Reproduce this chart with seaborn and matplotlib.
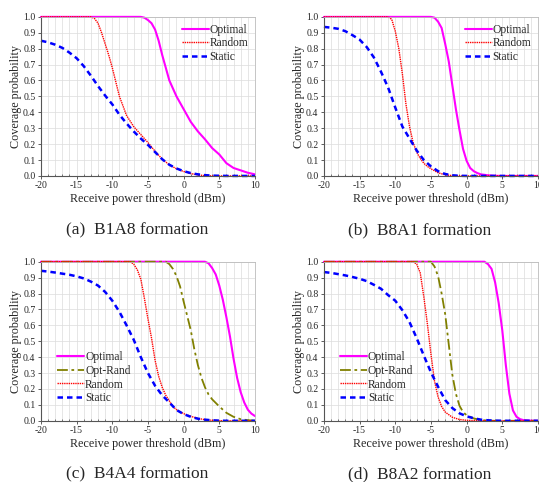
import numpy as np
import pandas as pd
import matplotlib
matplotlib.use("Agg")
import matplotlib.pyplot as plt
from matplotlib.ticker import MultipleLocator, FormatStrFormatter
import seaborn as sns

sns.set_theme(style="whitegrid")
plt.rcParams['font.family'] = ['Liberation Serif', 'DejaVu Serif']
plt.rcParams['axes.unicode_minus'] = False

# ---- datos ----
# (a) B1A8
xa_opt = [-20, -6, -5.5, -5, -4.5, -4, -3.5, -3, -2, -1, 0, 1, 2, 3, 4, 4.5, 5, 6, 7, 8, 9, 10]
ya_opt = [1.0, 1.0, 0.995, 0.98, 0.96, 0.92, 0.85, 0.76, 0.60, 0.50, 0.42, 0.34, 0.28, 0.23, 0.175, 0.155, 0.135, 0.08, 0.05, 0.035, 0.02, 0.01]
xa_rand = [-20, -13, -12.5, -12, -11.5, -11, -10.5, -10, -9.5, -9, -8, -7, -6, -5, -4, -3, -2, -1, 0, 1, 2, 3, 4, 10]
ya_rand = [1.0, 1.0, 0.99, 0.96, 0.90, 0.83, 0.76, 0.68, 0.59, 0.50, 0.38, 0.31, 0.26, 0.21, 0.155, 0.105, 0.07, 0.045, 0.028, 0.015, 0.006, 0.002, 0.0, 0.0]
xa_stat = [-20, -19, -18, -17, -16, -15, -14, -13, -12, -11, -10, -9, -8, -7, -6, -5, -4, -3, -2, -1, 0, 1, 2, 3, 4, 5, 6, 10]
ya_stat = [0.85, 0.84, 0.825, 0.805, 0.775, 0.74, 0.69, 0.63, 0.565, 0.505, 0.45, 0.385, 0.33, 0.28, 0.235, 0.195, 0.15, 0.105, 0.07, 0.047, 0.03, 0.018, 0.01, 0.005, 0.002, 0.001, 0.0, 0.0]

# (b) B8A1
xb_opt = [-20, -5, -4.5, -4, -3.5, -3, -2.5, -2, -1.5, -1, -0.5, 0, 0.5, 1, 1.5, 2, 3, 4, 5, 10]
yb_opt = [1.0, 1.0, 0.995, 0.97, 0.93, 0.83, 0.72, 0.57, 0.42, 0.29, 0.17, 0.095, 0.05, 0.03, 0.018, 0.01, 0.004, 0.001, 0.0, 0.0]
xb_rand = [-20, -11, -10.5, -10, -9.5, -9, -8.5, -8, -7.5, -7, -6.5, -6, -5.5, -5, -4, -3, -2, -1, 10]
yb_rand = [1.0, 1.0, 0.985, 0.91, 0.80, 0.64, 0.45, 0.31, 0.21, 0.15, 0.11, 0.08, 0.06, 0.045, 0.02, 0.007, 0.002, 0.0, 0.0]
xb_stat = [-20, -19, -18, -17, -16, -15, -14, -13, -12, -11, -10, -9, -8, -7, -6, -5, -4, -3, -2, -1, 0, 10]
yb_stat = [0.937, 0.932, 0.925, 0.91, 0.885, 0.857, 0.81, 0.745, 0.655, 0.555, 0.43, 0.31, 0.235, 0.16, 0.10, 0.06, 0.03, 0.012, 0.004, 0.001, 0.0, 0.0]

# (c) B4A4
xc_opt = [-20, 3, 3.5, 4, 4.5, 5, 5.5, 6, 6.5, 7, 7.5, 8, 8.5, 9, 9.5, 10]
yc_opt = [1.0, 1.0, 0.99, 0.96, 0.92, 0.85, 0.76, 0.65, 0.53, 0.39, 0.27, 0.18, 0.115, 0.07, 0.045, 0.03]
xc_optr = [-20, -2.5, -2, -1.5, -1, -0.5, 0, 0.5, 1, 1.5, 2, 2.5, 3, 3.5, 4, 5, 6, 7, 8, 9, 10]
yc_optr = [1.0, 1.0, 0.985, 0.955, 0.91, 0.845, 0.75, 0.66, 0.57, 0.45, 0.35, 0.27, 0.21, 0.165, 0.135, 0.09, 0.05, 0.025, 0.01, 0.004, 0.001]
xc_rand = [-20, -7.5, -7, -6.5, -6, -5.5, -5, -4.5, -4, -3.5, -3, -2.5, -2, -1.5, -1, 0, 1, 2, 3, 4, 5, 6, 10]
yc_rand = [1.0, 1.0, 0.985, 0.95, 0.89, 0.77, 0.64, 0.52, 0.38, 0.28, 0.21, 0.16, 0.125, 0.09, 0.07, 0.045, 0.028, 0.015, 0.007, 0.003, 0.001, 0.0, 0.0]
xc_stat = [-20, -19, -18, -17, -16, -15, -14, -13, -12, -11, -10, -9, -8, -7, -6, -5, -4, -3, -2, -1, 0, 1, 2, 3, 4, 5, 6, 10]
yc_stat = [0.943, 0.938, 0.932, 0.925, 0.918, 0.908, 0.895, 0.875, 0.85, 0.81, 0.755, 0.685, 0.60, 0.51, 0.40, 0.30, 0.22, 0.16, 0.115, 0.068, 0.042, 0.025, 0.013, 0.007, 0.003, 0.001, 0.0, 0.0]

# (d) B8A2
xd_opt = [-20, 2.5, 3, 3.5, 4, 4.5, 5, 5.5, 6, 6.5, 7, 7.5, 8, 9, 10]
yd_opt = [1.0, 1.0, 0.985, 0.955, 0.87, 0.74, 0.57, 0.35, 0.17, 0.065, 0.025, 0.01, 0.004, 0.001, 0.0]
xd_optr = [-20, -5, -4.5, -4, -3.5, -3, -2.5, -2, -1.5, -1, -0.5, 0, 1, 2, 3, 4, 10]
yd_optr = [1.0, 1.0, 0.97, 0.91, 0.80, 0.67, 0.48, 0.29, 0.17, 0.095, 0.055, 0.035, 0.015, 0.005, 0.001, 0.0, 0.0]
xd_rand = [-20, -7.5, -7, -6.5, -6, -5.5, -5, -4.5, -4, -3.5, -3, -2, -1, 0, 1, 2, 10]
yd_rand = [1.0, 1.0, 0.985, 0.93, 0.78, 0.61, 0.42, 0.25, 0.15, 0.09, 0.055, 0.022, 0.008, 0.003, 0.001, 0.0, 0.0]
xd_stat = [-20, -19, -18, -17, -16, -15, -14, -13, -12, -11, -10, -9, -8, -7, -6, -5, -4, -3, -2, -1, 0, 1, 2, 3, 4, 5, 10]
yd_stat = [0.935, 0.93, 0.922, 0.914, 0.904, 0.893, 0.878, 0.855, 0.83, 0.79, 0.755, 0.695, 0.62, 0.52, 0.41, 0.305, 0.214, 0.13, 0.08, 0.047, 0.028, 0.016, 0.007, 0.003, 0.001, 0.0, 0.0]

titulos = ['(a)  B1A8 formation', '(b)  B8A1 formation', '(c)  B4A4 formation', '(d)  B8A2 formation']

estilos = {
    'Optimal': dict(color='#ff00ff', linestyle='-', linewidth=1.5),
    'Opt-Rand': dict(color='#808000', linestyle=(0, (6, 2, 1.5, 2)), linewidth=1.3),
    'Random': dict(color='#ff0000', linestyle=(0, (1, 0.6)), linewidth=1.0),
    'Static': dict(color='#0000ff', linestyle=(0, (2.2, 1.6)), linewidth=1.8),
}


def dibujar_panel(ax, series, leyenda_abajo):
    for nombre, x, y in series:
        sns.lineplot(x=x, y=y, ax=ax, label=nombre, clip_on=False, **estilos[nombre])
    ax.set_xlim(-20, 10)
    ax.set_ylim(0, 1.0)
    ax.xaxis.set_major_locator(MultipleLocator(5))
    ax.xaxis.set_minor_locator(MultipleLocator(1))
    ax.yaxis.set_major_locator(MultipleLocator(0.1))
    ax.yaxis.set_major_formatter(FormatStrFormatter('%.1f'))
    ax.grid(True, which='both', color='#dcdcdc', linewidth=0.5)
    ax.set_axisbelow(True)
    ax.tick_params(axis='both', which='major', labelsize=7, length=2.5, width=0.6,
                   color='#444444', pad=1.5, direction='out')
    ax.tick_params(axis='x', which='minor', length=1.5, width=0.5, color='#444444',
                   direction='in', bottom=True)
    ax.xaxis.set_ticks_position('bottom')
    ax.yaxis.set_ticks_position('left')
    for lado in ['left', 'bottom']:
        ax.spines[lado].set_color('#555555')
        ax.spines[lado].set_linewidth(0.8)
    for lado in ['top', 'right']:
        ax.spines[lado].set_color('#bbbbbb')
        ax.spines[lado].set_linewidth(0.6)
    ax.set_xlabel('Receive power threshold (dBm)', fontsize=8.7, labelpad=2)
    ax.set_ylabel('Coverage probability', fontsize=8.7, labelpad=1)
    if leyenda_abajo:
        ax.legend(loc='lower left', bbox_to_anchor=(0.055, 0.075), frameon=False, fontsize=8.3,
                  handlelength=2.35, handletextpad=0.05, labelspacing=0.15, borderaxespad=0)
    else:
        ax.legend(loc='upper right', bbox_to_anchor=(1.0, 1.0), frameon=False, fontsize=8.3,
                  handlelength=2.35, handletextpad=0.05, labelspacing=0.12, borderaxespad=0.2)


fig = plt.figure(figsize=(5.39, 4.82), dpi=100)
fig.patch.set_facecolor('white')

ax_a = fig.add_axes([0.076, 0.635, 0.397, 0.330])
ax_b = fig.add_axes([0.601, 0.635, 0.397, 0.330])
ax_c = fig.add_axes([0.076, 0.127, 0.397, 0.330])
ax_d = fig.add_axes([0.601, 0.127, 0.397, 0.330])

dibujar_panel(ax_a, [('Optimal', xa_opt, ya_opt), ('Random', xa_rand, ya_rand),
                     ('Static', xa_stat, ya_stat)], False)
dibujar_panel(ax_b, [('Optimal', xb_opt, yb_opt), ('Random', xb_rand, yb_rand),
                     ('Static', xb_stat, yb_stat)], False)
dibujar_panel(ax_c, [('Optimal', xc_opt, yc_opt), ('Opt-Rand', xc_optr, yc_optr),
                     ('Random', xc_rand, yc_rand), ('Static', xc_stat, yc_stat)], True)
dibujar_panel(ax_d, [('Optimal', xd_opt, yd_opt), ('Opt-Rand', xd_optr, yd_optr),
                     ('Random', xd_rand, yd_rand), ('Static', xd_stat, yd_stat)], True)

# pies de figura
fig.text(137 / 539, 1 - 230 / 482, titulos[0], ha='center', va='center', fontsize=12.5)
fig.text(420 / 539, 1 - 230 / 482, titulos[1], ha='center', va='center', fontsize=12.5)
fig.text(137 / 539, 1 - 474 / 482, titulos[2], ha='center', va='center', fontsize=12.5)
fig.text(420 / 539, 1 - 474 / 482, titulos[3], ha='center', va='center', fontsize=12.5)

fig.savefig('out.png', dpi=100, facecolor='white')
